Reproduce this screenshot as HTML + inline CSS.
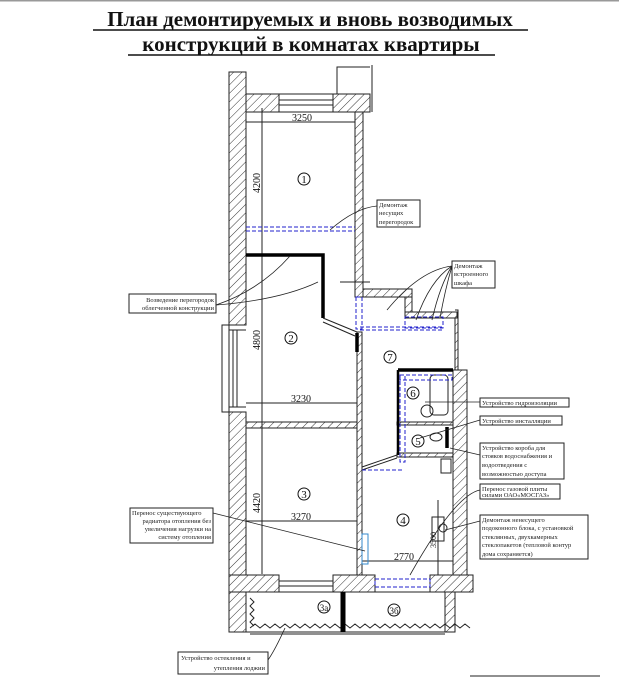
<!DOCTYPE html>
<html><head><meta charset="utf-8"><style>
html,body{margin:0;padding:0;background:#fff;}
svg{display:block}
.t{font-family:"Liberation Serif",serif;font-size:6.5px;fill:#222}
.d{font-family:"Liberation Serif",serif;font-size:10px;fill:#111}
.n{font-family:"Liberation Serif",serif;font-size:11px;fill:#111;text-anchor:middle}
</style></head><body>
<svg width="619" height="679" viewBox="0 0 619 679" xmlns="http://www.w3.org/2000/svg">
<defs>
<pattern id="h" width="6" height="6" patternUnits="userSpaceOnUse" patternTransform="rotate(45)">
<rect width="6" height="6" fill="#fff"/><line x1="0" y1="0" x2="0" y2="6" stroke="#333" stroke-width="1"/></pattern>
</defs>
<rect width="619" height="1.5" fill="#999"/>
<g font-family="Liberation Serif,serif" font-weight="bold" font-size="21" text-anchor="middle" fill="#111">
<text x="310" y="26">План демонтируемых и вновь возводимых</text>
<text x="311" y="51">конструкций в комнатах квартиры</text>
</g>
<line x1="93" y1="30" x2="528" y2="30" stroke="#111" stroke-width="1.5"/>
<line x1="128" y1="55" x2="495" y2="55" stroke="#111" stroke-width="1.5"/>

<g stroke="#222" stroke-width="1" fill="url(#h)">
<rect x="229" y="72" width="17" height="253"/>
<rect x="229" y="412" width="17" height="220"/>
<rect x="246" y="94" width="33" height="18"/>
<rect x="333" y="94" width="37" height="18"/>
<rect x="355" y="112" width="8" height="185"/>
<rect x="363" y="289" width="49" height="8"/>
<rect x="405" y="297" width="7" height="16"/>
<rect x="405" y="312" width="52" height="6"/>
<rect x="246" y="422" width="111" height="6"/>
<rect x="357" y="332" width="5" height="243"/>
<rect x="453" y="370" width="14" height="205"/>
<rect x="455" y="318" width="3" height="52"/>
<rect x="397" y="422" width="56" height="3"/>
<rect x="397" y="453" width="56" height="4"/>
<rect x="229" y="575" width="50" height="17"/>
<rect x="333" y="575" width="42" height="17"/>
<rect x="430" y="575" width="43" height="17"/>
<rect x="445" y="592" width="10" height="40"/>
</g>
<g fill="none" stroke="#222" stroke-width="1">
<line x1="279" y1="100" x2="333" y2="100"/><line x1="279" y1="105" x2="333" y2="105"/><line x1="279" y1="94" x2="333" y2="94"/><line x1="279" y1="112" x2="333" y2="112"/>
<polyline points="337,94 337,67 370,67"/><line x1="372" y1="65" x2="372" y2="112"/>
<rect x="222" y="325" width="7" height="87"/>
<line x1="233" y1="330" x2="233" y2="407"/><line x1="237" y1="330" x2="237" y2="407"/><line x1="229" y1="330" x2="246" y2="330"/><line x1="229" y1="407" x2="246" y2="407"/>
<line x1="279" y1="581" x2="333" y2="581"/><line x1="279" y1="586" x2="333" y2="586"/><line x1="279" y1="592" x2="333" y2="592"/>
<rect x="246" y="592" width="209" height="40"/>
<path d="M250 598 l4 4 -4 4 4 4 -4 4 4 4 -4 4 4 4" />
<path d="M250 628 l5 -4 5 4 5 -4 5 4 5 -4 5 4 5 -4 5 4 5 -4 5 4 5 -4 5 4 5 -4 5 4 5 -4 5 4 5 -4 5 4 5 -4 5 4 5 -4 5 4 5 -4 5 4 5 -4 5 4 5 -4 5 4 5 -4 5 4 5 -4 5 4 5 -4 5 4 5 -4 5 4 5 -4 5 4 5 -4 5 4 5 -4 5 4 5 -4 5 4"/>
<line x1="250" y1="634" x2="445" y2="634"/>
<polyline points="458,318 458,310 455,310"/>
<line x1="467" y1="575" x2="473" y2="575"/>
<line x1="262" y1="108" x2="262" y2="574"/>
<line x1="246" y1="122" x2="355" y2="122"/>
<line x1="246" y1="403" x2="357" y2="403"/>
<line x1="246" y1="521" x2="357" y2="521"/>
<line x1="362" y1="561" x2="453" y2="561"/>
<line x1="438" y1="500" x2="438" y2="575"/>
<rect x="430" y="375" width="18" height="40" rx="4"/>
<circle cx="427" cy="411" r="6"/>
<ellipse cx="436" cy="437" rx="6" ry="4"/>
<rect x="441" y="459" width="10" height="14"/>
<rect x="432" y="517" width="12" height="24"/>
<circle cx="443" cy="528" r="4"/>
<line x1="340" y1="282" x2="370" y2="282"/>
</g>
<g stroke="#000" stroke-width="3.5" fill="none">
<polyline points="246,255 323,255 323,318"/>
<line x1="343" y1="592" x2="343" y2="632" stroke-width="5"/>
<line x1="357" y1="333" x2="357" y2="352"/>
<line x1="398" y1="370" x2="398" y2="455" stroke-width="2.5"/>
<line x1="398" y1="370" x2="453" y2="370"/>
<line x1="447" y1="427" x2="447" y2="448"/>
</g>
<g stroke="#222" stroke-width="1" fill="none">
<line x1="323" y1="318" x2="357" y2="332"/><line x1="323" y1="322" x2="355" y2="336"/>
<line x1="362" y1="467" x2="397" y2="455"/><line x1="362" y1="470" x2="397" y2="458"/>
</g>
<g stroke="#22c" stroke-width="1" fill="none" stroke-dasharray="4,2">
<line x1="246" y1="227" x2="355" y2="227"/><line x1="246" y1="231" x2="355" y2="231"/>
<rect x="356" y="297" width="6" height="32"/>
<line x1="360" y1="327" x2="444" y2="327"/><line x1="360" y1="330" x2="444" y2="330"/>
<rect x="405" y="317" width="38" height="11"/>
<rect x="400" y="375" width="52" height="5"/>
<rect x="400" y="375" width="5" height="87"/>
<line x1="362" y1="470" x2="402" y2="470"/>
<rect x="375" y="579" width="55" height="8"/>
</g>
<rect x="362" y="534" width="6" height="30" fill="none" stroke="#38c" stroke-width="1"/>
<g fill="none" stroke="#111" stroke-width="1">
<circle cx="304" cy="179" r="6"/><circle cx="291" cy="338" r="6"/><circle cx="390" cy="357" r="6"/>
<circle cx="413" cy="393" r="6"/><circle cx="418" cy="441" r="6"/><circle cx="304" cy="494" r="6"/>
<circle cx="403" cy="520" r="6"/><circle cx="324" cy="607" r="6"/><circle cx="394" cy="610" r="6"/>
</g>
<g class="n">
<text x="304" y="183">1</text><text x="291" y="342">2</text><text x="390" y="361">7</text>
<text x="413" y="397">6</text><text x="418" y="445">5</text><text x="304" y="498">3</text>
<text x="403" y="524">4</text><text x="324" y="611" font-size="9">3а</text><text x="394" y="614" font-size="9">3б</text>
</g>
<g class="d">
<text x="292" y="121">3250</text><text x="291" y="402">3230</text><text x="291" y="520">3270</text><text x="394" y="560">2770</text>
<text transform="translate(260,193) rotate(-90)">4200</text>
<text transform="translate(260,350) rotate(-90)">4800</text>
<text transform="translate(260,513) rotate(-90)">4420</text>
<text transform="translate(436,548) rotate(-90)" font-size="8">3500</text>
</g>
<g fill="#fff" stroke="#222" stroke-width="1">
<rect x="377" y="200" width="43" height="27"/>
<rect x="452" y="261" width="43" height="27"/>
<rect x="129" y="294" width="87" height="19"/>
<rect x="130" y="508" width="83" height="35"/>
<rect x="178" y="652" width="90" height="22"/>
<rect x="480" y="398" width="89" height="9"/>
<rect x="480" y="416" width="82" height="9"/>
<rect x="480" y="443" width="84" height="36"/>
<rect x="480" y="484" width="80" height="15"/>
<rect x="480" y="515" width="108" height="44"/>
<line x1="470" y1="676" x2="600" y2="676"/>
</g>
<g class="t">
<text x="379" y="207">Демонтаж</text><text x="379" y="215">несущих</text><text x="379" y="224">перегородок</text>
<text x="454" y="268">Демонтаж</text><text x="454" y="276">встроенного</text><text x="454" y="285">шкафа</text>
<text x="214" y="302" text-anchor="end">Возведение перегородок</text><text x="214" y="310" text-anchor="end">облегченной конструкции</text>
<text x="132" y="515">Перенос существующего</text><text x="211" y="523" text-anchor="end">радиатора отопления без</text><text x="211" y="531" text-anchor="end">увеличения нагрузки на</text><text x="211" y="539" text-anchor="end">систему отопления</text>
<text x="181" y="660">Устройство остекления и</text><text x="265" y="670" text-anchor="end">утепления лоджии</text>
<text x="482" y="405">Устройство гидроизоляции</text>
<text x="482" y="423">Устройство инсталляции</text>
<text x="482" y="450">Устройство короба для</text><text x="482" y="458">стояков водоснабжения и</text><text x="482" y="467">водоотведения с</text><text x="482" y="476">возможностью доступа</text>
<text x="482" y="491">Перенос газовой плиты</text><text x="482" y="497">силами ОАО«МОСГАЗ»</text>
<text x="482" y="522">Демонтаж ненесущего</text><text x="482" y="530">подоконного блока, с установкой</text><text x="482" y="539">стеклянных, двухкамерных</text><text x="482" y="547">стеклопакетов (тепловой контур</text><text x="482" y="556">дома сохраняется)</text>
</g>
<g stroke="#222" stroke-width="0.8" fill="none">
<path d="M377 206 Q355 208 330 230"/>
<path d="M452 266 Q420 270 387 310"/><path d="M452 266 Q430 280 416 320"/><path d="M452 266 Q440 285 432 320"/><path d="M452 266 Q445 290 440 318"/>
<path d="M216 305 Q260 290 290 256"/><path d="M216 305 Q280 300 318 282"/>
<path d="M213 513 L365 551"/>
<path d="M268 660 Q275 650 285 628"/>
<line x1="480" y1="402" x2="425" y2="402"/>
<path d="M480 420 L420 438"/>
<line x1="480" y1="455" x2="450" y2="448"/>
<path d="M480 490 Q455 495 410 575"/>
<path d="M480 521 Q465 525 445 530"/>
</g>
</svg>
</body></html>
